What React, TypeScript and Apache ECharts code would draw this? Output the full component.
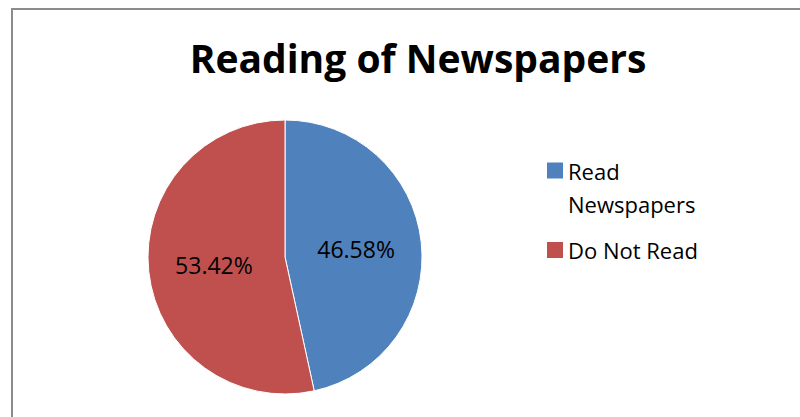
import React, { useEffect, useRef } from "react";
import * as echarts from "echarts";

const titleText = "Reading of Newspapers";
const categories = ["Read Newspapers", "Do Not Read"];
const legendLabels = ["\nRead\nNewspapers", "Do Not Read"];
const values = [46.58, 53.42];
const colors = ["#4F81BD", "#C0504D"];

const FONT = "'Open Sans', 'Noto Sans', sans-serif";
const LINE = 33;

export default function App() {
  const ref = useRef<HTMLDivElement>(null);

  useEffect(() => {
    if (!ref.current) return;
    const chart = echarts.init(ref.current, undefined, { renderer: "svg" });
    chart.setOption({
      animation: false,
      backgroundColor: "#ffffff",
      title: {
        text: titleText,
        left: 418,
        textAlign: "center",
        top: 38,
        padding: 0,
        textStyle: {
          fontFamily: FONT,
          fontWeight: "bold",
          fontSize: 39,
          color: "#000000",
        },
      },
      graphic: [
        {
          type: "rect",
          shape: { x: 12, y: 9, width: 900, height: 600 },
          style: { fill: "none", stroke: "#8c8c8c", lineWidth: 2 },
          silent: true,
          z: 100,
        },
      ],
      legend: [
        {
          orient: "vertical",
          left: 547,
          top: 121,
          padding: 0,
          itemWidth: 16,
          itemHeight: 16,
          itemGap: 0,
          icon: "rect",
          itemStyle: { borderWidth: 0 },
          data: [categories[0]],
          formatter: () => legendLabels[0],
          textStyle: {
            fontFamily: FONT,
            fontSize: 22,
            lineHeight: LINE,
            color: "#000000",
          },
        },
        {
          orient: "vertical",
          left: 547,
          top: 239,
          padding: 0,
          itemWidth: 16,
          itemHeight: 16,
          icon: "rect",
          itemStyle: { borderWidth: 0 },
          data: [categories[1]],
          formatter: () => legendLabels[1],
          textStyle: {
            fontFamily: FONT,
            fontSize: 22,
            color: "#000000",
          },
        },
      ],
      series: [
        {
          type: "pie",
          center: [285, 257],
          radius: 137,
          startAngle: 90,
          clockwise: true,
          percentPrecision: 2,
          data: categories.map((name, i) => ({
            name,
            value: values[i],
            itemStyle: { color: colors[i] },
          })),
          itemStyle: { borderColor: "#ffffff", borderWidth: 1 },
          label: {
            show: true,
            position: "inside",
            formatter: "{d}%",
            fontFamily: FONT,
            fontSize: 23,
            color: "#000000",
          },
          labelLine: { show: false },
          emphasis: { disabled: true },
        },
      ],
    });
    return () => chart.dispose();
  }, []);

  return (
    <div
      ref={ref}
      style={{ position: "absolute", left: 0, top: 0, width: 800, height: 417 }}
    />
  );
}
